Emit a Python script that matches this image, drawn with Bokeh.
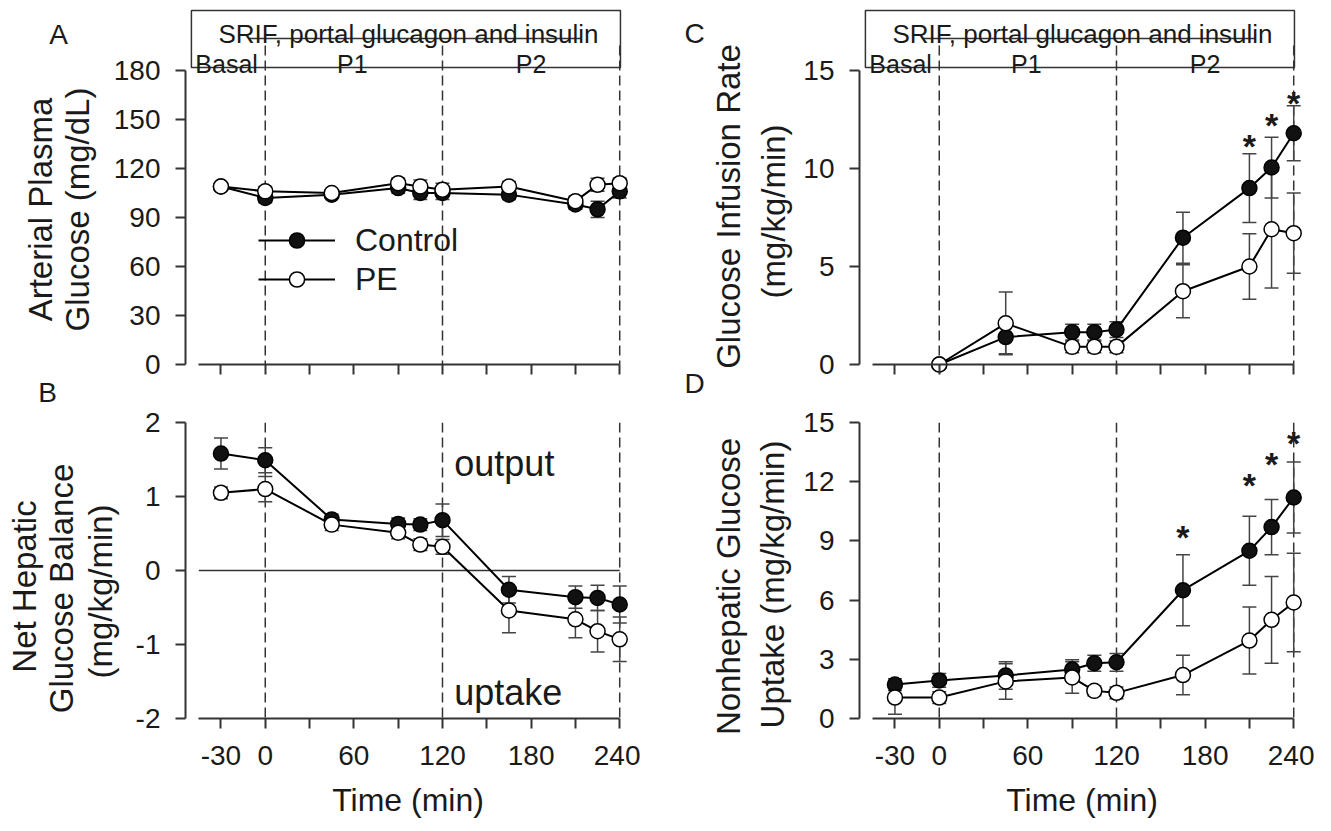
import math
import numpy as np
from bokeh.plotting import figure
from bokeh.layouts import column, row
from bokeh.models import FixedTicker, Legend, LegendItem, Range1d
from bokeh.core.properties import value
from bokeh.embed import file_html
from bokeh.resources import INLINE

FONT = "Liberation Sans"
INK = "#1a1a1a"
AX = "#333333"
ERR = "#444444"

# ---------------- data ----------------
time_all = [-30, 0, 45, 90, 105, 120, 165, 210, 225, 240]
time_gir = [0, 45, 90, 105, 120, 165, 210, 225, 240]

# A: arterial plasma glucose (mg/dL)
glucose_control = [109, 102, 104, 108, 105, 105, 104, 98, 95, 106]
glucose_control_se = [2, 3, 2, 3, 4, 4, 3, 3, 5, 4]
glucose_pe = [109, 106, 105, 111, 109, 107, 109, 100, 110, 111]
glucose_pe_se = [2, 3, 2, 3, 4, 4, 3, 3, 4, 3]

# B: net hepatic glucose balance (mg/kg/min)
nhgb_control = [1.58, 1.49, 0.69, 0.63, 0.62, 0.68, -0.26, -0.36, -0.37, -0.46]
nhgb_control_se = [0.21, 0.17, 0.07, 0.08, 0.08, 0.22, 0.18, 0.15, 0.17, 0.25]
nhgb_pe = [1.05, 1.10, 0.62, 0.51, 0.35, 0.32, -0.54, -0.66, -0.82, -0.93]
nhgb_pe_se = [0.08, 0.17, 0.08, 0.08, 0.08, 0.10, 0.30, 0.25, 0.28, 0.30]

# C: glucose infusion rate (mg/kg/min)
gir_control = [0, 1.4, 1.65, 1.65, 1.78, 6.47, 9.0, 10.05, 11.8]
gir_control_se = [0, 0.85, 0.4, 0.4, 0.4, 1.3, 1.75, 1.55, 1.4]
gir_pe = [0, 2.1, 0.9, 0.9, 0.9, 3.74, 5.0, 6.9, 6.7]
gir_pe_se = [0, 1.6, 0.3, 0.3, 0.3, 1.35, 1.67, 3.0, 2.05]
gir_sig_time = [210, 225, 240]
gir_sig_y = [11.43, 12.55, 13.67]

# D: nonhepatic glucose uptake (mg/kg/min)
nhgu_control = [1.72, 1.93, 2.18, 2.48, 2.8, 2.85, 6.5, 8.5, 9.7, 11.2]
nhgu_control_se = [0.3, 0.35, 0.7, 0.5, 0.4, 0.45, 1.8, 1.75, 1.4, 1.8]
nhgu_pe = [1.06, 1.06, 1.88, 2.08, 1.4, 1.3, 2.2, 3.95, 5.0, 5.88]
nhgu_pe_se = [0.85, 0.3, 0.9, 0.8, 0.25, 0.3, 1.0, 1.7, 2.2, 2.5]
nhgu_sig_time = [165, 210, 225, 240]
nhgu_sig_y = [9.48, 12.16, 13.18, 14.24]

x_ticks = [-30, 0, 30, 60, 90, 120, 150, 180, 210, 240]
x_tick_labels = {-30: "-30", 30: "", 90: "", 150: "", 210: ""}
phase_lines = [0, 120, 240]
yticks_A = [0, 30, 60, 90, 120, 150, 180]
yticks_B = [-2, -1, 0, 1, 2]
ytick_labels_B = {-2: "-2", -1: "-1"}
yticks_C = [0, 5, 10, 15]
yticks_D = [0, 3, 6, 9, 12, 15]

title_A = ["Arterial Plasma", "Glucose (mg/dL)"]
title_B = ["Net Hepatic", "Glucose Balance", "(mg/kg/min)"]
title_C = ["Glucose Infusion Rate", "(mg/kg/min)"]
title_D = ["Nonhepatic Glucose", "Uptake (mg/kg/min)"]

# ---------------- layout helpers ----------------
X_START, X_END = -54.0, 247.3
FRAME_W = 445


class Panel:
    def __init__(self, lo, hi, ticks, ax_top, ax_bot, fr_top, fr_bot,
                 left, right, top, bottom, xlabels, ylabel_over=None):
        self.lo, self.hi = lo, hi
        self.ax_top = ax_top
        self.scale = (ax_bot - ax_top) / (hi - lo)
        y0 = lo - (fr_bot - ax_bot) / self.scale
        y1 = hi + (ax_top - fr_top) / self.scale
        p = figure(frame_width=FRAME_W, frame_height=fr_bot - fr_top,
                   x_range=Range1d(X_START, X_END), y_range=Range1d(y0, y1),
                   min_border_left=left, min_border_right=right,
                   min_border_top=top, min_border_bottom=bottom,
                   toolbar_location=None, output_backend="svg",
                   background_fill_color="white", border_fill_color="white",
                   outline_line_color=None)
        p.grid.visible = False
        for ax in (p.xaxis[0], p.yaxis[0]):
            ax.axis_line_width = 2
            ax.axis_line_color = AX
            ax.major_tick_line_width = 2
            ax.major_tick_line_color = AX
            ax.major_tick_out = 10
            ax.major_tick_in = 0
            ax.minor_tick_out = 0
            ax.minor_tick_in = 0
            ax.major_label_text_font = FONT
            ax.major_label_text_color = INK
            ax.major_label_text_font_size = "28px"
        ya = p.yaxis[0]
        ya.ticker = FixedTicker(ticks=ticks)
        ya.bounds = (lo, hi)
        ya.major_label_standoff = 15
        if ylabel_over:
            ya.major_label_overrides = ylabel_over
        xa = p.xaxis[0]
        xa.ticker = FixedTicker(ticks=x_ticks)
        xa.bounds = (-45, 240)
        if xlabels:
            xa.major_label_overrides = x_tick_labels
            xa.major_label_standoff = 17
            xa.axis_label = "Time (min)"
            xa.axis_label_text_font = FONT
            xa.axis_label_text_font_size = "32px"
            xa.axis_label_text_font_style = "normal"
            xa.axis_label_text_color = INK
            xa.axis_label_standoff = 14
        else:
            # axis drawn at the value lo, slightly above the frame bottom
            xa.fixed_location = lo
            xa.major_label_text_font_size = "1px"
            xa.major_label_text_alpha = 0
            xa.major_label_standoff = 0
        self.p = p

    def yd(self, page_y):
        return self.hi - (page_y - self.ax_top) / self.scale


def text_fig(x0, y0, w, h):
    f = figure(frame_width=w, frame_height=h, x_range=Range1d(x0, x0 + w),
               y_range=Range1d(y0 + h, y0), min_border_left=0, min_border_right=0,
               min_border_top=0, min_border_bottom=0, x_axis_location=None,
               y_axis_location=None, toolbar_location=None, output_backend="svg",
               outline_line_color=None, background_fill_color="white",
               border_fill_color="white")
    f.grid.visible = False
    return f


def put_text(f, xs, ys, texts, size, angle=0.0, baseline="middle"):
    f.text(x=xs, y=ys, text=texts, angle=angle, text_align="center",
           text_baseline=baseline, text_font=value(FONT),
           text_font_size=value(size), text_color=INK)


def add_errors(p, t, y, se):
    t = np.asarray(t, float)
    y = np.asarray(y, float)
    se = np.asarray(se, float)
    lo, hi = y - se, y + se
    p.segment(x0=t, y0=lo, x1=t, y1=hi, line_color=ERR, line_width=1.5)
    p.scatter(x=np.concatenate([t, t]), y=np.concatenate([lo, hi]), marker="dash",
              size=14, line_color=ERR, line_width=1.5)


def add_series(p, t, y, filled):
    ln = p.line(t, y, line_color="black", line_width=2)
    sc = p.scatter(t, y, size=15, marker="circle",
                   fill_color="#111111" if filled else "white",
                   line_color="black", line_width=1.5)
    return ln, sc


def phase_box(pn):
    p = pn.p
    p.segment(x0=phase_lines, y0=[pn.yd(45)] * 3, x1=phase_lines, y1=[pn.lo] * 3,
              line_color=AX, line_width=1.5, line_dash="10 5")
    p.quad(left=[-50], right=[240.5], top=[pn.yd(10)], bottom=[pn.yd(67)],
           fill_color=None, line_color=AX, line_width=1.5)
    p.segment(x0=[-11], y0=[pn.yd(38)], x1=[214], y1=[pn.yd(38)],
              line_color=AX, line_width=1.5)
    p.text(x=[97], y=[pn.yd(33)], text=["SRIF, portal glucagon and insulin"],
           text_align="center", text_baseline="alphabetic",
           text_font=value(FONT), text_font_size=value("26px"), text_color=INK)
    p.text(x=[-5, 59, 180], y=[pn.yd(63)] * 3, text=["Basal", "P1", "P2"],
           text_align=["right", "center", "center"], text_baseline="alphabetic",
           text_font=value(FONT), text_font_size=value("25px"), text_color=INK)


def full_dash(pn):
    pn.p.segment(x0=phase_lines, y0=[pn.hi] * 3, x1=phase_lines, y1=[pn.lo] * 3,
                 line_color=AX, line_width=1.5, line_dash="10 5")


def stars(pn, t, yv):
    pn.p.text(x=t, y=yv, text=["*"] * len(t), text_align="center",
              text_baseline="alphabetic", y_offset=6,
              text_font=value(FONT), text_font_size=value("34px"),
              text_font_style="bold", text_color=INK)


# ---------------- panels ----------------
A = Panel(0, 180, yticks_A, 70, 364, 0, 375, 75, 10, 0, 33, False)
C = Panel(0, 15, yticks_C, 70, 364, 0, 375, 57, 10, 0, 33, False)
B = Panel(-2, 2, yticks_B, 422, 718, 422, 718, 63, 10, 14, 110, True, ytick_labels_B)
D = Panel(0, 15, yticks_D, 422, 718, 422, 718, 57, 10, 14, 110, True)

LA = text_fig(0, 0, 110, 408)
LC = text_fig(640, 0, 160, 408)
LB = text_fig(0, 408, 122, 420)
LD = text_fig(640, 408, 160, 420)

# A
phase_box(A)
add_errors(A.p, time_all, glucose_control, glucose_control_se)
add_errors(A.p, time_all, glucose_pe, glucose_pe_se)
lc, sc_c = add_series(A.p, time_all, glucose_control, True)
lp, sc_p = add_series(A.p, time_all, glucose_pe, False)
legend = Legend(items=[LegendItem(label="Control", renderers=[lc, sc_c]),
                       LegendItem(label="PE", renderers=[lp, sc_p])],
                location=(73, 77), orientation="vertical", glyph_width=77,
                glyph_height=38, label_height=38, spacing=1, padding=0, margin=0,
                label_standoff=20, label_text_font=FONT, label_text_font_size="32px",
                label_text_color=INK, border_line_color=None,
                background_fill_alpha=0)
A.p.add_layout(legend)
put_text(LA, [58, 47], [34, 392], ["A", "B"], "28px", baseline="alphabetic")
put_text(LA, [40, 77], [209, 209], title_A, "33px", angle=math.pi / 2)

# B
full_dash(B)
B.p.segment(x0=[-45], y0=[0], x1=[240], y1=[0], line_color=AX, line_width=1.5)
add_errors(B.p, time_all, nhgb_control, nhgb_control_se)
add_errors(B.p, time_all, nhgb_pe, nhgb_pe_se)
add_series(B.p, time_all, nhgb_control, True)
add_series(B.p, time_all, nhgb_pe, False)
B.p.text(x=[128, 128], y=[B.yd(463), B.yd(692)], text=["output", "uptake"],
         text_align="left", text_baseline="alphabetic", text_font=value(FONT),
         text_font_size=value("36px"), text_color=INK)
put_text(LB, [24, 61, 100], [572, 574, 577], title_B, "33px", angle=math.pi / 2)

# C
phase_box(C)
add_errors(C.p, time_gir, gir_control, gir_control_se)
add_errors(C.p, time_gir, gir_pe, gir_pe_se)
add_series(C.p, time_gir, gir_control, True)
add_series(C.p, time_gir, gir_pe, False)
stars(C, gir_sig_time, gir_sig_y)
put_text(LC, [694, 694], [33, 383], ["C", "D"], "28px", baseline="alphabetic")
put_text(LC, [728, 773], [206, 211], title_C, "33px", angle=math.pi / 2)

# D
full_dash(D)
add_errors(D.p, time_all, nhgu_control, nhgu_control_se)
add_errors(D.p, time_all, nhgu_pe, nhgu_pe_se)
add_series(D.p, time_all, nhgu_control, True)
add_series(D.p, time_all, nhgu_pe, False)
stars(D, nhgu_sig_time, nhgu_sig_y)
put_text(LD, [728, 772], [572, 570], title_D, "33px", angle=math.pi / 2)

layout = column(row(LA, A.p, LC, C.p), row(LB, B.p, LD, D.p))
open("out.html", "w").write(file_html(layout, INLINE))
